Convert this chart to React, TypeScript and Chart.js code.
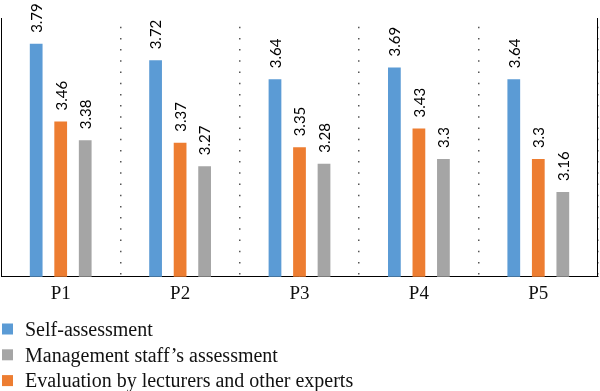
import React, { useEffect, useRef } from "react";
import { Chart, registerables } from "chart.js";

Chart.register(...registerables);

const categories = ["P1", "P2", "P3", "P4", "P5"];
const selfAssessment = [3.79, 3.72, 3.64, 3.69, 3.64];
const lecturerEvaluation = [3.46, 3.37, 3.35, 3.43, 3.3];
const managementAssessment = [3.38, 3.27, 3.28, 3.3, 3.16];
const seriesNames = [
  "Self-assessment",
  "Evaluation by lecturers and other experts",
  "Management staff\u2019s assessment",
];
const seriesColors = ["#5B9BD5", "#ED7D31", "#A5A5A5"];
const legendOrder = [0, 2, 1];

const SERIF = "'Liberation Serif', 'Times New Roman', serif";
const SANS = "Lato, 'Open Sans', sans-serif";

const valueLabelPlugin = {
  id: "valueLabels",
  afterDatasetsDraw(chart: any) {
    const ctx = chart.ctx;
    ctx.save();
    ctx.font = `15px ${SANS}`;
    ctx.fillStyle = "#000";
    ctx.textAlign = "left";
    ctx.textBaseline = "middle";
    chart.data.datasets.forEach((ds: any, di: number) => {
      const meta = chart.getDatasetMeta(di);
      meta.data.forEach((bar: any, i: number) => {
        ctx.save();
        ctx.translate(bar.x + 1, bar.y - 11);
        ctx.rotate(-Math.PI / 2);
        ctx.fillText(String(ds.data[i]), 0, 0);
        ctx.restore();
      });
    });
    ctx.restore();
  },
};

const framePlugin = {
  id: "frame",
  afterDraw(chart: any) {
    const { ctx, chartArea } = chart;
    ctx.save();
    ctx.strokeStyle = "#000";
    ctx.lineWidth = 1;
    ctx.beginPath();
    ctx.moveTo(chartArea.left + 0.5, chartArea.top);
    ctx.lineTo(chartArea.left + 0.5, chartArea.bottom);
    ctx.moveTo(chartArea.right - 0.5, chartArea.top);
    ctx.lineTo(chartArea.right - 0.5, chartArea.bottom);
    ctx.stroke();
    ctx.restore();
  },
};

const legendPlugin = {
  id: "verticalLegend",
  afterDraw(chart: any) {
    const ctx = chart.ctx;
    const startY = chart.height - 61.5;
    const step = 25.8;
    ctx.save();
    ctx.font = `20px ${SERIF}`;
    ctx.textBaseline = "middle";
    ctx.textAlign = "left";
    legendOrder.forEach((di, row) => {
      const ds = chart.data.datasets[di];
      const y = startY + row * step;
      ctx.fillStyle = ds.backgroundColor;
      ctx.fillRect(2, y - 6, 11, 11);
      ctx.fillStyle = "#111";
      ctx.fillText(ds.label, 25, y + 1);
    });
    ctx.restore();
  },
};

export default function App() {
  const canvasRef = useRef<HTMLCanvasElement | null>(null);

  useEffect(() => {
    if (!canvasRef.current) return;
    const seriesData = [selfAssessment, lecturerEvaluation, managementAssessment];
    const chart = new Chart(canvasRef.current, {
      type: "bar",
      data: {
        labels: categories,
        datasets: seriesData.map((d, i) => ({
          label: seriesNames[i],
          data: d,
          backgroundColor: seriesColors[i],
          borderWidth: 0,
          categoryPercentage: 0.616,
          barPercentage: 0.52,
        })),
      },
      options: {
        animation: false,
        responsive: true,
        maintainAspectRatio: false,
        layout: { padding: { top: 18, left: 1, right: 2, bottom: 79.5 } },
        plugins: {
          legend: { display: false },
          tooltip: { enabled: false },
        },
        scales: {
          x: {
            grid: {
              offset: true,
              drawTicks: false,
              lineWidth: 1.5,
              color: (c: any) =>
                c.index === 0 || c.index === categories.length ? "rgba(0,0,0,0)" : "#555",
            },
            border: { display: true, color: "#000", width: 1, dash: [1.5, 9.7], dashOffset: 2.5 },
            ticks: {
              padding: 6,
              color: "#111",
              font: { family: SERIF, size: 19 },
            },
          },
          y: {
            display: false,
            min: 2.8,
            max: 3.9,
          },
        },
      },
      plugins: [valueLabelPlugin, framePlugin, legendPlugin],
    });
    return () => chart.destroy();
  }, []);

  return (
    <div style={{ position: "absolute", left: 0, top: 0, width: 600, height: 391, background: "#fff" }}>
      <canvas ref={canvasRef} />
    </div>
  );
}
